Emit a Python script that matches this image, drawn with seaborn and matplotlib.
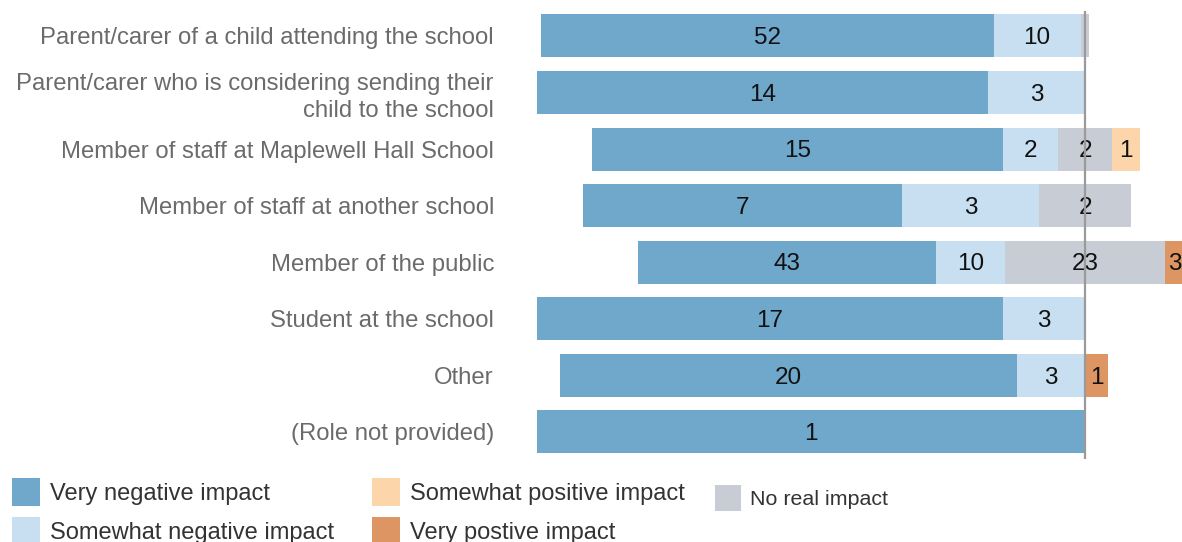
import numpy as np
import pandas as pd
import matplotlib
matplotlib.use("Agg")
import matplotlib.pyplot as plt
from matplotlib.patches import Patch
import seaborn as sns

# ---- data (counts) ----
roles = [
    "Parent/carer of a child attending the school",
    "Parent/carer who is considering sending their\nchild to the school",
    "Member of staff at Maplewell Hall School",
    "Member of staff at another school",
    "Member of the public",
    "Student at the school",
    "Other",
    "(Role not provided)",
]
very_negative = [52, 14, 15, 7, 43, 17, 20, 1]
somewhat_negative = [10, 3, 2, 3, 10, 3, 3, 0]
no_real_impact = [1, 0, 2, 2, 23, 0, 0, 0]
somewhat_positive = [0, 0, 1, 0, 0, 0, 0, 0]
very_positive = [0, 0, 0, 0, 3, 0, 1, 0]

series_names = ["Very negative impact", "Somewhat negative impact",
                "Somewhat positive impact", "Very postive impact", "No real impact"]
colors = {
    "Very negative impact": "#6fa8cb",
    "Somewhat negative impact": "#c7dff0",
    "No real impact": "#c8ccd4",
    "Somewhat positive impact": "#fdd5aa",
    "Very postive impact": "#dc9563",
}

sns.set_theme(style="white")
plt.rcParams["font.family"] = ["Liberation Sans", "DejaVu Sans"]

df = pd.DataFrame({
    "role": roles,
    "vn": very_negative, "sn": somewhat_negative, "nr": no_real_impact,
    "sp": somewhat_positive, "vp": very_positive,
})
cols = ["vn", "sn", "nr", "sp", "vp"]
total = df[cols].sum(axis=1)
p = df[cols].div(total, axis=0) * 100
half = p["nr"] / 2

# segment bounds (percent of row total, neutral centred on zero)
seg = {
    "vn": (-(half + p["sn"] + p["vn"]), -(half + p["sn"])),
    "sn": (-(half + p["sn"]), -half),
    "nr": (-half, half),
    "sp": (half, half + p["sp"]),
    "vp": (half + p["sp"], half + p["sp"] + p["vp"]),
}
key_color = {"vn": colors["Very negative impact"], "sn": colors["Somewhat negative impact"],
             "nr": colors["No real impact"], "sp": colors["Somewhat positive impact"],
             "vp": colors["Very postive impact"]}

W, H = 1182, 542
fig = plt.figure(figsize=(W / 100, H / 100), dpi=100)
ax = fig.add_axes([537 / W, 1 - 459 / H, 1 - 537 / W, (459 - 11) / H])

# overlapping bars drawn from zero outward (largest first)
layers = [
    ("vn", seg["vn"][0]),
    ("sn", seg["sn"][0]),
    ("nr", seg["nr"][0]),
    ("vp", seg["vp"][1]),
    ("sp", seg["sp"][1]),
    ("nr", seg["nr"][1]),
]
for k, vals in layers:
    d = pd.DataFrame({"role": roles, "val": vals.values})
    sns.barplot(data=d, y="role", x="val", orient="h", color=key_color[k],
                saturation=1, width=0.76, errorbar=None, ax=ax,
                linewidth=0, edgecolor="none")

# value labels
for k in cols:
    lo, hi = seg[k]
    for i in range(len(roles)):
        cnt = df[k].iloc[i]
        if cnt > 0 and (hi.iloc[i] - lo.iloc[i]) > 3:
            ax.text((lo.iloc[i] + hi.iloc[i]) / 2, i + 0.04, str(cnt), ha="center",
                    va="center", fontsize=17.5, color="#111111", zorder=5)

ax.axvline(0, color="#9a9a9a", lw=1.6, zorder=6)
ax.set_xlim(-100, 97 / 5.48)
ax.set_ylim(7.48, -0.44)
ax.set_xlabel("")
ax.set_ylabel("")
ax.set_xticks([])
for s in ax.spines.values():
    s.set_visible(False)
ax.tick_params(axis="y", length=0, pad=31, labelsize=17.2, labelcolor="#6b6b6b")
for t in ax.get_yticklabels():
    t.set_multialignment("right")
    t.set_linespacing(1.3)

# legends
def handles(names):
    return [Patch(facecolor=colors[n], edgecolor="none", label=n) for n in names]

leg1 = fig.legend(handles=handles(series_names[:4]), ncol=2, loc="upper left",
                  bbox_to_anchor=(12 / W, 1 - 478 / H), frameon=False, fontsize=17,
                  handlelength=1.19, handleheight=1.45, handletextpad=0.42,
                  columnspacing=1.6, labelspacing=0.45, labelcolor="#333333",
                  borderaxespad=0, borderpad=0)
leg2 = fig.legend(handles=handles(series_names[4:]), loc="upper left",
                  bbox_to_anchor=(715 / W, 1 - 485 / H), frameon=False, fontsize=15.4,
                  handlelength=1.22, handleheight=1.5, handletextpad=0.4,
                  labelcolor="#333333", borderaxespad=0, borderpad=0)

fig.savefig("out.png", dpi=100)
